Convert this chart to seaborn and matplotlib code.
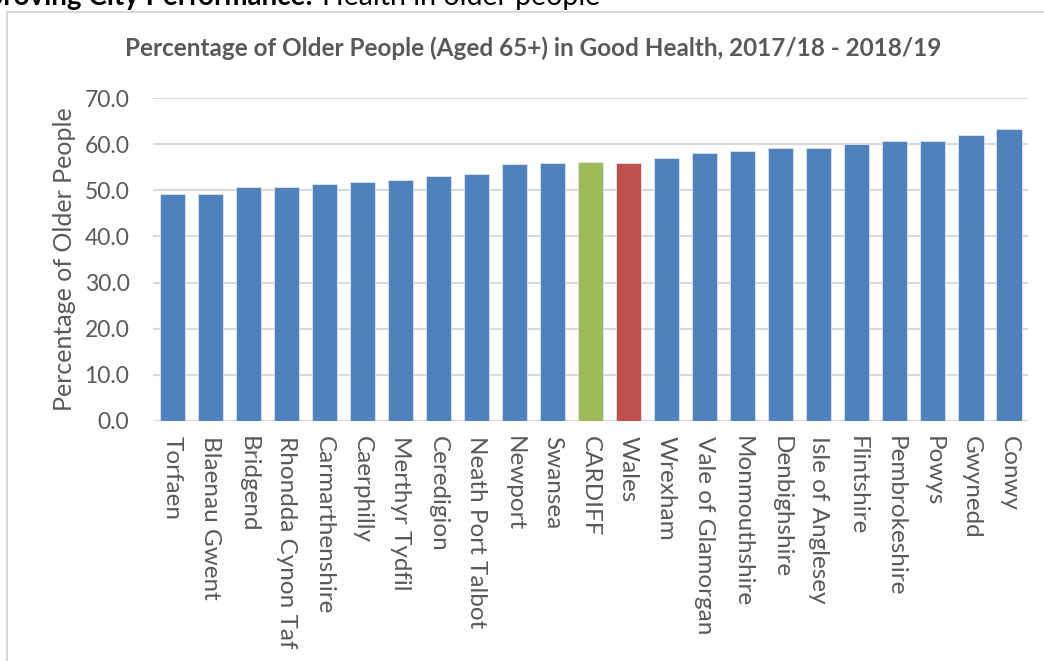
import matplotlib
matplotlib.use("Agg")
import matplotlib.pyplot as plt
import seaborn as sns
import pandas as pd
from matplotlib.patches import Rectangle

areas = ["Torfaen", "Blaenau Gwent", "Bridgend", "Rhondda Cynon Taf",
         "Carmarthenshire", "Caerphilly", "Merthyr Tydfil", "Ceredigion",
         "Neath Port Talbot", "Newport", "Swansea", "CARDIFF", "Wales",
         "Wrexham", "Vale of Glamorgan", "Monmouthshire", "Denbighshire",
         "Isle of Anglesey", "Flintshire", "Pembrokeshire", "Powys",
         "Gwynedd", "Conwy"]
values = [49.2, 49.2, 50.8, 50.8, 51.4, 51.7, 52.2, 53.0, 53.6, 55.6, 55.9,
          56.1, 56.0, 57.1, 58.0, 58.5, 59.1, 59.1, 60.0, 60.7, 60.7, 61.9, 63.2]

blue, green, red = "#4f81bd", "#9bbb59", "#c0504d"
colours = {a: blue for a in areas}
colours["CARDIFF"] = green
colours["Wales"] = red

data = pd.DataFrame({"area": areas, "pct": values})

sns.set_style("white")
plt.rcParams["font.family"] = ["Lato", "DejaVu Sans"]
grey = "#595959"

fig = plt.figure(figsize=(10.44, 6.61), dpi=100)
ax = fig.add_axes([0.1466, 0.3631, 0.8381, 0.4886])

sns.barplot(data=data, x="area", y="pct", hue="area", palette=colours,
            legend=False, width=0.66, edgecolor="#dce6f2", linewidth=0.6,
            saturation=1, ax=ax, zorder=3)

ax.set_ylim(0, 70)
ax.set_xlim(-0.5, len(areas) - 0.5)
ax.set_yticks(range(0, 71, 10))
ax.set_yticklabels([f"{v:.1f}" for v in range(0, 71, 10)])
ax.yaxis.grid(True, color="#d9d9d9", linewidth=1.5, zorder=0)
ax.set_axisbelow(True)
for s in ax.spines.values():
    s.set_visible(False)
ax.axhline(0, color="#d9d9d9", linewidth=1.5, zorder=2)

ax.tick_params(axis="y", length=0, pad=17, labelsize=16.5, labelcolor=grey)
ax.tick_params(axis="x", length=0, pad=11, labelsize=17.5, labelcolor=grey)
plt.setp(ax.get_xticklabels(), rotation=-90, ha="center", va="top")

ax.set_xlabel("")
ax.set_ylabel("Percentage of Older People", fontsize=18, color=grey, labelpad=6)

fig.text(0.511, 1 - 48 / 661, "Percentage of Older People (Aged 65+) in Good Health, 2017/18 - 2018/19",
         ha="center", va="center", fontsize=17.5, fontweight="bold", color=grey)

# page header cut off at the top of the screenshot
fig.text(313 / 1044, 1 - 5 / 661, "Improving City Performance:", ha="right",
         va="baseline", fontsize=20, fontweight="bold", color="black")
fig.text(322 / 1044, 1 - 5 / 661, "Health in older people", ha="left",
         va="baseline", fontsize=20.5, color="black")

fig.patches.append(Rectangle((7 / 1044, -0.1), 1.2, 1.1 - 12 / 661,
                             transform=fig.transFigure, fill=False,
                             edgecolor="#d9d9d9", linewidth=1.5))

fig.savefig("out.png", dpi=100, facecolor="white")
